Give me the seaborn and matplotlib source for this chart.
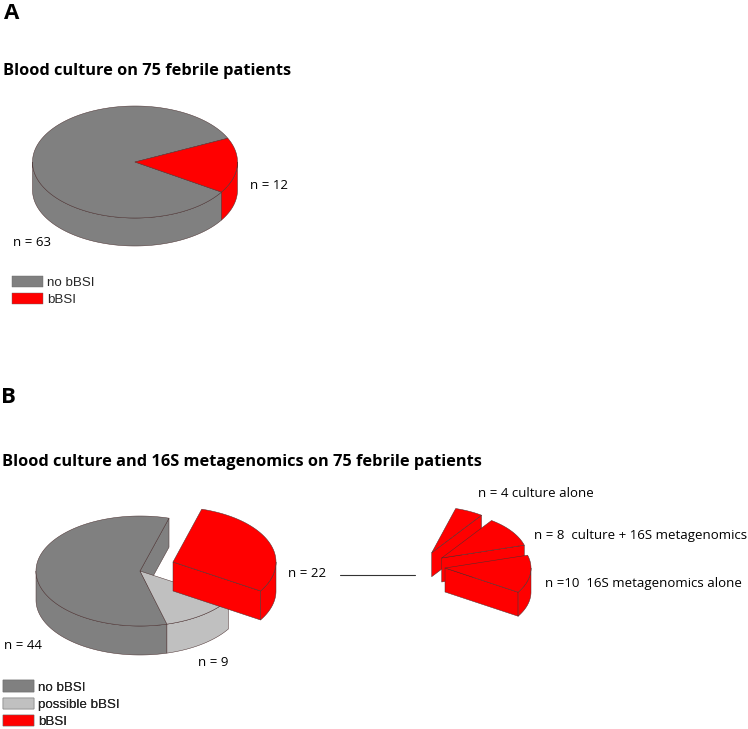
import numpy as np
import matplotlib
matplotlib.use("Agg")
import matplotlib.pyplot as plt
from matplotlib.patches import Patch, Polygon
import seaborn as sns

# --- data ---------------------------------------------------------------
labels_a = ["no bBSI", "bBSI"]
values_a = [63, 12]
labels_b = ["no bBSI", "possible bBSI", "bBSI"]
values_b = [44, 9, 22]
labels_detail = ["16S metagenomics alone", "culture + 16S metagenomics", "culture alone"]
values_detail = [10, 8, 4]

title_a = "Blood culture on 75 febrile patients"
title_b = "Blood culture and 16S metagenomics on 75 febrile patients"

GREY, LIGHT, RED = "#808080", "#c0c0c0", "#ff0000"
EDGE = "#4a3030"

sns.set_theme(style="white")
plt.rcParams["font.family"] = ["Open Sans", "DejaVu Sans"]
LABEL_FONT = "Open Sans"
LEGEND_FONT = "Liberation Sans"

fig = plt.figure(figsize=(7.48, 7.29), dpi=100)
ax = fig.add_axes([0, 0, 1, 1])
ax.set_xlim(0, 748)
ax.set_ylim(729, 0)
ax.axis("off")


def sweep(value, total=75):
    return 360.0 * value / total


def rim(cx, cy, rx, ry, a, b, dy=0):
    t = np.radians(np.linspace(a, b, max(int(abs(b - a)) * 2, 2)))
    return np.column_stack([cx + rx * np.cos(t), cy - ry * np.sin(t) + dy])


def wedge3d(cx, cy, rx, ry, depth, start, extent, color, start_face=False, end_face=False):
    """One slice of an oblique pie: side faces first, then the top."""
    end = start + extent
    kw = dict(facecolor=color, edgecolor=EDGE, linewidth=0.35, joinstyle="round")

    def radial(angle):
        e = rim(cx, cy, rx, ry, angle, angle)[0]
        ax.add_patch(Polygon([(cx, cy), e, e + (0, depth), (cx, cy + depth)], **kw))

    if start_face:
        radial(start)
    if end_face:
        radial(end)
    # outer wall: only the part of the rim on the front half of the ellipse
    for lo, hi in ((-180, 0), (180, 360)):
        a, b = max(start, lo), min(end, hi)
        if b > a:
            top = rim(cx, cy, rx, ry, a, b)
            bottom = rim(cx, cy, rx, ry, a, b, depth)[::-1]
            ax.add_patch(Polygon(np.vstack([top, bottom]), **kw))
    top = rim(cx, cy, rx, ry, start, end)
    ax.add_patch(Polygon(np.vstack([[(cx, cy)], top]), **kw))


# --- panel A --------------------------------------------------------------
a_start = -32.5
wedge3d(135, 162, 102.5, 56, 28, a_start + sweep(values_a[1]), sweep(values_a[0]), GREY)
wedge3d(135, 162, 102.5, 56, 28, a_start, sweep(values_a[1]), RED)

# --- panel B --------------------------------------------------------------
b_start = 73.8
b0, b1, b2 = (sweep(v) for v in values_b)
wedge3d(140, 571, 104, 55, 29, b_start, b0, GREY, start_face=True)
wedge3d(140, 571, 104, 55, 29, b_start + b0, b1, LIGHT)
wedge3d(173, 562, 103, 55, 29, b_start + b0 + b1 - 360, b2, RED, start_face=True)

# --- exploded detail of the red slice, back to front ---------------------
d0, d1, d2 = (sweep(v) for v in values_detail)
s0 = b_start + b0 + b1 - 360
wedge3d(431.7, 552.7, 86, 46, 24, s0 + d0 + d1, d2, RED, start_face=True)
wedge3d(441.7, 558, 86, 46, 24, s0 + d0, d1, RED, start_face=True)
wedge3d(445, 568, 86, 46, 24, s0, d0, RED, start_face=True)
ax.plot([340, 415], [575, 575], color="#333333", lw=0.8)

# --- text -----------------------------------------------------------------
big = dict(family=LABEL_FONT, fontweight="bold", va="baseline", ha="left", color="black")
ax.text(4, 19, "A", fontsize=16, **big)
ax.text(1, 403, "B", fontsize=16, **big)
ax.text(3.5, 75, title_a, fontsize=11.8, **big)
ax.text(2.5, 465.5, title_b, fontsize=11.8, **big)

lab = dict(family=LABEL_FONT, fontsize=9.5, va="center", ha="left", color="black")
ax.text(250, 185.5, f"n = {values_a[1]}", **lab)
ax.text(13, 242.5, f"n = {values_a[0]}", **lab)
ax.text(288, 573.5, f"n = {values_b[2]}", **lab)
ax.text(4, 645.5, f"n = {values_b[0]}", **lab)
ax.text(198, 662, f"n = {values_b[1]}", **lab)
ax.text(478, 493.5, f"n = {values_detail[2]} {labels_detail[2]}", **lab)
ax.text(534, 535.5, f"n = {values_detail[1]}  {labels_detail[1]}", **lab)
ax.text(545, 583.5, f"n ={values_detail[0]}  {labels_detail[0]}", **lab)


def legend(labels, colors, x, y):
    fs = 9.6
    px = fs / 0.72
    handles = [Patch(facecolor=c, edgecolor="#666666", linewidth=0.3) for c in colors]
    leg = ax.legend(handles, labels, loc="upper left", bbox_to_anchor=(x, y),
                    bbox_transform=ax.transData, frameon=False, borderpad=0, borderaxespad=0,
                    handlelength=31 / px, handleheight=12 / px, handletextpad=4 / px,
                    labelspacing=0.30, prop={"family": LEGEND_FONT, "size": fs})
    ax.add_artist(leg)


legend(labels_a, [GREY, RED], 12, 275.5)
legend(labels_b, [GREY, LIGHT, RED], 3, 680.5)

fig.savefig("out.png", dpi=100)
